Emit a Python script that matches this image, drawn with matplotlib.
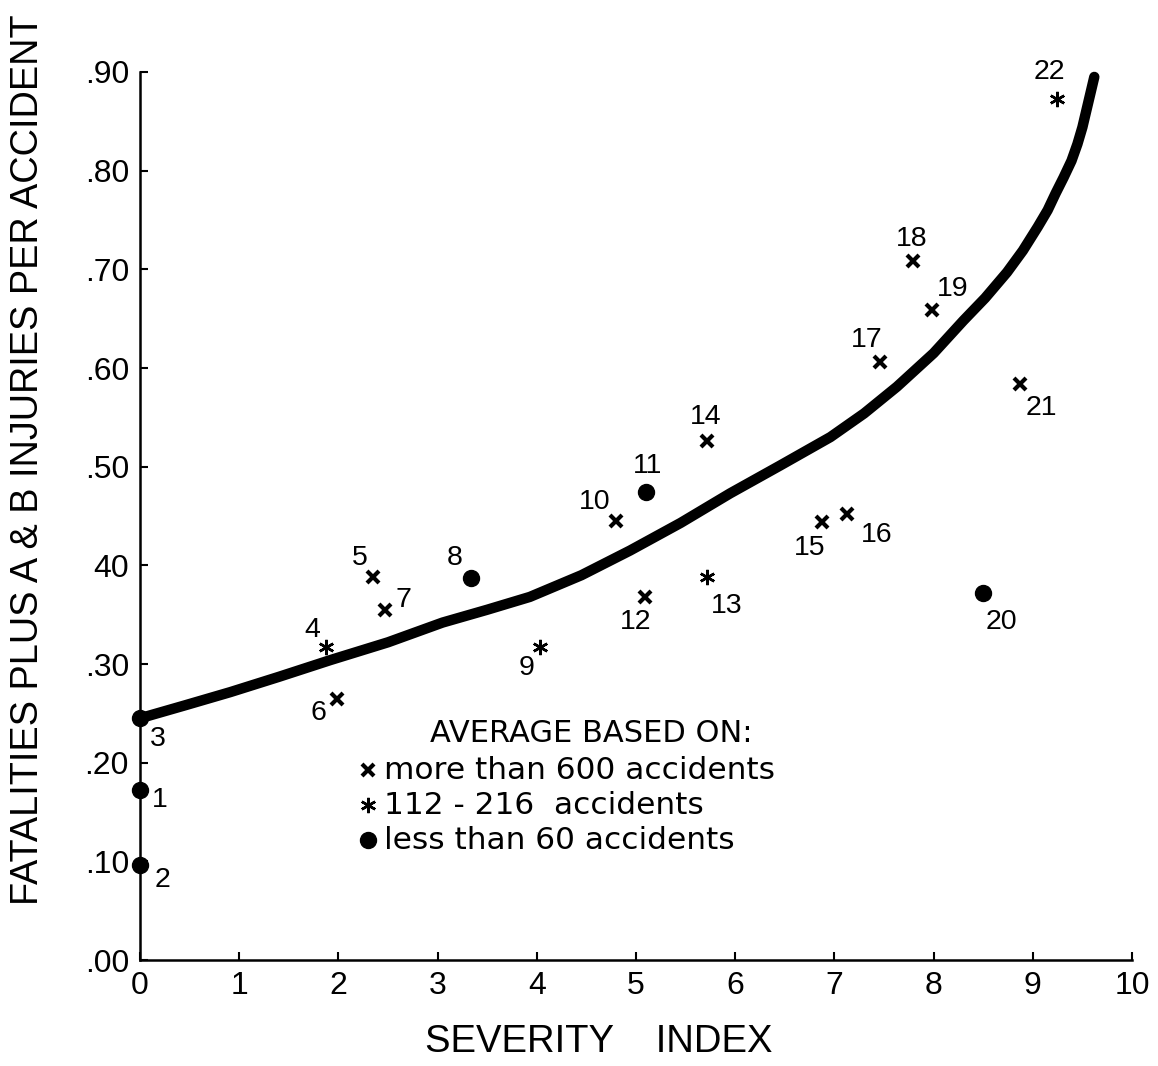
import matplotlib
matplotlib.use("Agg")
import matplotlib.pyplot as plt

plt.rcParams['font.family'] = ['Liberation Sans', 'DejaVu Sans']

# ---- data ----
point_ids = ["1", "2", "3", "4", "5", "6", "7", "8", "9", "10", "11",
             "12", "13", "14", "15", "16", "17", "18", "19", "20", "21", "22"]
severity = [0.00, 0.00, 0.00, 1.88, 2.35, 1.99, 2.47, 3.34, 4.03, 4.80, 5.10,
            5.09, 5.72, 5.72, 6.87, 7.13, 7.46, 7.79, 7.98, 8.50, 8.87, 9.24]
rate = [0.172, 0.096, 0.245, 0.317, 0.388, 0.265, 0.355, 0.387, 0.317, 0.445, 0.474,
        0.368, 0.388, 0.526, 0.444, 0.452, 0.606, 0.708, 0.659, 0.372, 0.584, 0.873]
# group: 'many' = more than 600, 'mid' = 112-216, 'few' = less than 60
group = ["few", "few", "few", "mid", "many", "many", "many", "few", "mid", "many", "few",
         "many", "mid", "many", "many", "many", "many", "many", "many", "few", "many", "mid"]

# fitted curve
curve_x = [0.00, 0.45, 0.91, 1.40, 1.92, 2.50, 3.05, 3.50, 3.93, 4.45, 4.94, 5.45,
           5.95, 6.45, 6.96, 7.30, 7.63, 8.00, 8.30, 8.52, 8.74, 8.90, 9.05, 9.15,
           9.23, 9.31, 9.39, 9.45, 9.50, 9.54, 9.58, 9.62]
curve_y = [0.245, 0.258, 0.2715, 0.287, 0.304, 0.322, 0.342, 0.355, 0.368, 0.390,
           0.415, 0.443, 0.473, 0.501, 0.530, 0.554, 0.581, 0.615, 0.648, 0.671,
           0.697, 0.719, 0.743, 0.760, 0.777, 0.793, 0.810, 0.827, 0.844, 0.861,
           0.878, 0.895]

x_ticks = [0, 1, 2, 3, 4, 5, 6, 7, 8, 9, 10]
y_ticks = [0.0, 0.1, 0.2, 0.3, 0.4, 0.5, 0.6, 0.7, 0.8, 0.9]
y_tick_labels = [".00", ".10", ".20", ".30", "40", ".50", ".60", ".70", ".80", ".90"]

legend_title = "AVERAGE BASED ON:"
legend_labels = ["more than 600 accidents", "112 - 216  accidents", "less than 60 accidents"]

# ---- styles / layout ----
label_offsets_px = {
    "1": (20, -10), "2": (22, -15), "3": (18, -21), "4": (-14, 17), "5": (-13, 19),
    "6": (-19, -14), "7": (18, 10), "8": (-17, 20), "9": (-13, -21), "10": (-21, 19),
    "11": (2, 26), "12": (-9, -25), "13": (19, -29), "14": (-2, 24), "15": (-12, -26),
    "16": (29, -21), "17": (-13, 22), "18": (-1, 22), "19": (21, 21), "20": (18, -29),
    "21": (21, -24), "22": (-7, 27),
}
marker_style = {
    "many": dict(marker="x", ms=9, mew=3.0, color="black", ls="none"),
    "mid": dict(marker=(6, 2, 0), ms=11, mew=1.8, color="black", ls="none"),
    "few": dict(marker="o", ms=11.5, color="black", ls="none"),
}

fig = plt.figure(figsize=(11.58, 10.66), dpi=100)
ax = fig.add_axes([140 / 1158, 1 - 960 / 1066, 992 / 1158, 888 / 1066])

ax.plot(curve_x, curve_y, color="black", lw=7.5, solid_capstyle="round",
        solid_joinstyle="round", clip_on=False, zorder=2)

for key in ["many", "mid", "few"]:
    xs = [x for x, g in zip(severity, group) if g == key]
    ys = [y for y, g in zip(rate, group) if g == key]
    ax.plot(xs, ys, clip_on=False, zorder=3, **marker_style[key])

for pid, x, y in zip(point_ids, severity, rate):
    dx, dy = label_offsets_px[pid]
    ax.annotate(pid, (x, y), xytext=(dx * 0.72, dy * 0.72), textcoords="offset points",
                ha="center", va="center", fontsize=20.5)

ax.set_xlim(0, 10)
ax.set_ylim(0, 0.9)
for s in ["top", "right"]:
    ax.spines[s].set_visible(False)
for s in ["left", "bottom"]:
    ax.spines[s].set_linewidth(1.8)

ax.set_xticks(x_ticks)
ax.set_xticklabels([str(t) for t in x_ticks])
ax.set_yticks(y_ticks)
ax.set_yticklabels(y_tick_labels)
ax.tick_params(direction="in", length=6, width=1.5, labelsize=23, pad=8)

ax.set_xlabel("SEVERITY    INDEX", fontsize=27.5)
ax.xaxis.set_label_coords((599 - 140) / 992, (960 - 1024) / 888)
ax.set_ylabel("FATALITIES PLUS A & B INJURIES PER ACCIDENT", fontsize=27.3)
ax.yaxis.set_label_coords((46 - 140) / 992, (960 - 460) / 888)

# legend block drawn manually
leg_font = ['DejaVu Sans']
ax.text(2.92, 0.230, legend_title, fontsize=22, va="center", ha="left", family=leg_font)
leg_rows_y = [0.1925, 0.157, 0.1216]
for key, lab, ly in zip(["many", "mid", "few"], legend_labels, leg_rows_y):
    st = dict(marker_style[key])
    ax.plot([2.30], [ly], **st)
    ax.text(2.46, ly, lab, fontsize=22.5, va="center", ha="left", family=leg_font)

fig.savefig("out.png", dpi=100)
